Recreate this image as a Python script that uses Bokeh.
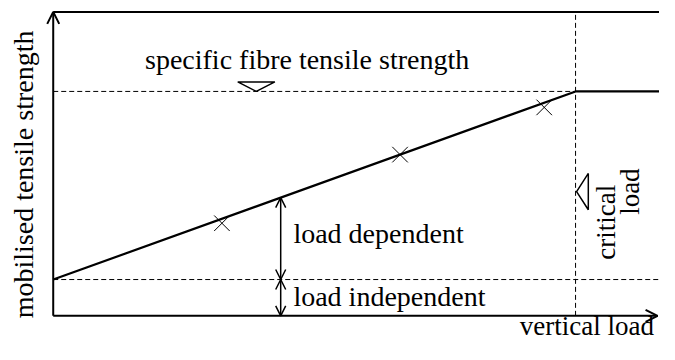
from bokeh.plotting import figure
from bokeh.models import Range1d, Label, Arrow, OpenHead
from bokeh.embed import file_html
from bokeh.resources import INLINE

# ---- data (schematic units) ----
critical_load = 10.0
independent_strength = 1.0
fibre_strength = 6.18
x_end = 11.57
y_top = 8.37
curve_load = [0.0, critical_load, 11.62]
curve_strength = [independent_strength, fibre_strength, fibre_strength]
test_load = [3.23, 6.64, 9.40]
test_strength = [2.55, 4.44, 5.74]
arrow_load = 4.355

FONT = "Liberation Serif"

p = figure(width=659, height=344, output_backend="svg", toolbar_location=None,
           x_range=Range1d(-1.0093, 11.607), y_range=Range1d(-0.789, 8.684),
           min_border=0)
p.axis.visible = False
p.grid.visible = False
p.outline_line_color = None
p.background_fill_color = "white"
p.border_fill_color = "white"

# dashed reference lines
p.line([0, critical_load], [fibre_strength, fibre_strength], line_color="black",
       line_width=1, line_dash="5 3")
p.line([0, 11.62], [independent_strength, independent_strength], line_color="black",
       line_width=1, line_dash="5 3")
p.line([critical_load, critical_load], [0, y_top - 0.08], line_color="black",
       line_width=1, line_dash="5 3")

# top frame line
p.line([0, 11.62], [y_top, y_top], line_color="black", line_width=2)

# main curve
p.line(curve_load, curve_strength, line_color="black", line_width=2.2)

# test points
p.scatter(test_load, test_strength, marker="x", size=22, line_color="black", line_width=1)

# axes with arrows
p.add_layout(Arrow(end=OpenHead(size=12, line_width=2, line_color="black"),
                   x_start=0, y_start=0, x_end=0, y_end=y_top,
                   line_width=2, line_color="black"))
p.add_layout(Arrow(end=OpenHead(size=12, line_width=2, line_color="black"),
                   x_start=0, y_start=0, x_end=x_end, y_end=0,
                   line_width=2, line_color="black"))

# double-headed dimension arrows
dep_top = independent_strength + (fibre_strength - independent_strength) * arrow_load / critical_load
p.add_layout(Arrow(start=OpenHead(size=10, line_width=1.5, line_color="black"),
                   end=OpenHead(size=10, line_width=1.5, line_color="black"),
                   x_start=arrow_load, y_start=independent_strength,
                   x_end=arrow_load, y_end=dep_top, line_width=1.5, line_color="black"))
p.add_layout(Arrow(start=OpenHead(size=10, line_width=1.5, line_color="black"),
                   end=OpenHead(size=10, line_width=1.5, line_color="black"),
                   x_start=arrow_load, y_start=0,
                   x_end=arrow_load, y_end=independent_strength, line_width=1.5, line_color="black"))

# triangle symbols
tx = 3.888
p.patch([tx - 0.355, tx + 0.355, tx], [fibre_strength + 0.263, fibre_strength + 0.263, fibre_strength],
        fill_color="white", line_color="black", line_width=1.5)
ty = 3.421
tip = critical_load + 0.02
p.patch([tip, tip + 0.224, tip + 0.224], [ty, ty + 0.5, ty - 0.5],
        fill_color="white", line_color="black", line_width=1.5)

# texts
def lab(x, y, t, size="28px", angle=0, align="left", baseline="alphabetic"):
    p.add_layout(Label(x=x, y=y, text=t, angle=angle, text_font=FONT,
                       text_font_size=size, text_align=align, text_baseline=baseline,
                       text_color="black"))

lab(1.757, 7.064, "specific fibre tensile strength")
lab(4.598, 2.274, "load dependent")
lab(4.598, 0.537, "load independent")
lab(11.50, -0.266, "vertical load", size="27px", align="right")
lab(-0.5645, 3.895, "mobilised tensile strength", angle=1.5708, align="center")
lab(10.585, 2.579, "critical", size="27px", angle=1.5708, align="center")
lab(11.034, 3.421, "load", size="27px", angle=1.5708, align="center")

open("out.html", "w").write(file_html(p, INLINE))
